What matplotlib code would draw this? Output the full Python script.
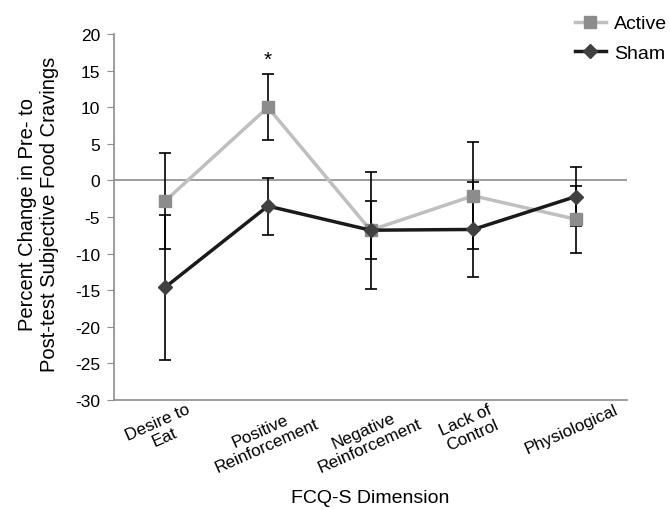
import numpy as np
import matplotlib
matplotlib.use('Agg')
import matplotlib.pyplot as plt
from matplotlib import transforms

plt.rcParams['font.family'] = ['Liberation Sans', 'DejaVu Sans']

# Data
categories = ['Desire to\nEat', 'Positive\nReinforcement', 'Negative\nReinforcement',
              'Lack of\nControl', 'Physiological']
active = [-2.8, 10.0, -6.8, -2.1, -5.3]
active_err = [6.6, 4.5, 8.0, 7.3, 4.6]
sham = [-14.6, -3.5, -6.8, -6.7, -2.2]
sham_err = [9.9, 3.9, 4.0, 6.5, 4.0]
yticks = list(range(-30, 25, 5))
star_pos = (1, 16.5)

fig = plt.figure(figsize=(6.7, 5.1), dpi=100)
ax = fig.add_axes([0.170, 0.214, 0.766, 0.717])

x = np.arange(len(categories))

ax.axhline(0, color='#8c8c8c', lw=1.2, zorder=1)

ax.errorbar(x, active, yerr=active_err, fmt='none', ecolor='black',
            elinewidth=1.2, capsize=4, capthick=1.2, zorder=2)
ax.errorbar(x, sham, yerr=sham_err, fmt='none', ecolor='black',
            elinewidth=1.2, capsize=4, capthick=1.2, zorder=2)

la, = ax.plot(x, active, color='#bfbfbf', lw=2.5, marker='s', ms=8,
              mfc='#8c8c8c', mec='#8c8c8c', zorder=3, label='Active')
ls, = ax.plot(x, sham, color='#1a1a1a', lw=2.5, marker='D', ms=7,
              mfc='#404040', mec='#404040', zorder=4, label='Sham')

ax.text(star_pos[0], star_pos[1], '*', ha='center', va='center', fontsize=15)

ax.set_xlim(-0.5, len(categories) - 0.5)
ax.set_ylim(-30, 20)
ax.set_yticks(yticks)
ax.set_yticklabels([str(v) for v in yticks], fontsize=12.5)
ax.tick_params(axis='y', direction='out', length=5, color='#8c8c8c', pad=5)
ax.tick_params(axis='x', length=0, pad=1)

# Excel-style rotated category labels: rotated block centred under the tick
ax.set_xticks(x)
labels = ax.set_xticklabels(categories, rotation=24, ha='center', va='top',
                            rotation_mode='default', fontsize=12.3,
                            multialignment='center', linespacing=1.1)
shift = transforms.ScaledTranslation(-0.04, 0, fig.dpi_scale_trans)
for lab in labels:
    lab.set_transform(lab.get_transform() + shift)

for side in ['top', 'right']:
    ax.spines[side].set_visible(False)
for side in ['left', 'bottom']:
    ax.spines[side].set_color('#8c8c8c')
    ax.spines[side].set_linewidth(1.2)

ax.set_ylabel('Percent Change in Pre- to\nPost-test Subjective Food Cravings',
              fontsize=14.5)
ax.yaxis.set_label_coords(-0.106, 0.51)
ax.set_xlabel('FCQ-S Dimension', fontsize=14)
ax.xaxis.set_label_coords(0.5, -0.243)

fig.legend(handles=[la, ls], loc='upper left', bbox_to_anchor=(0.858, 0.969),
           frameon=False, fontsize=14, handlelength=1.6, handletextpad=0.4,
           borderpad=0, borderaxespad=0, labelspacing=0.6)

fig.savefig('out.png', dpi=100)
